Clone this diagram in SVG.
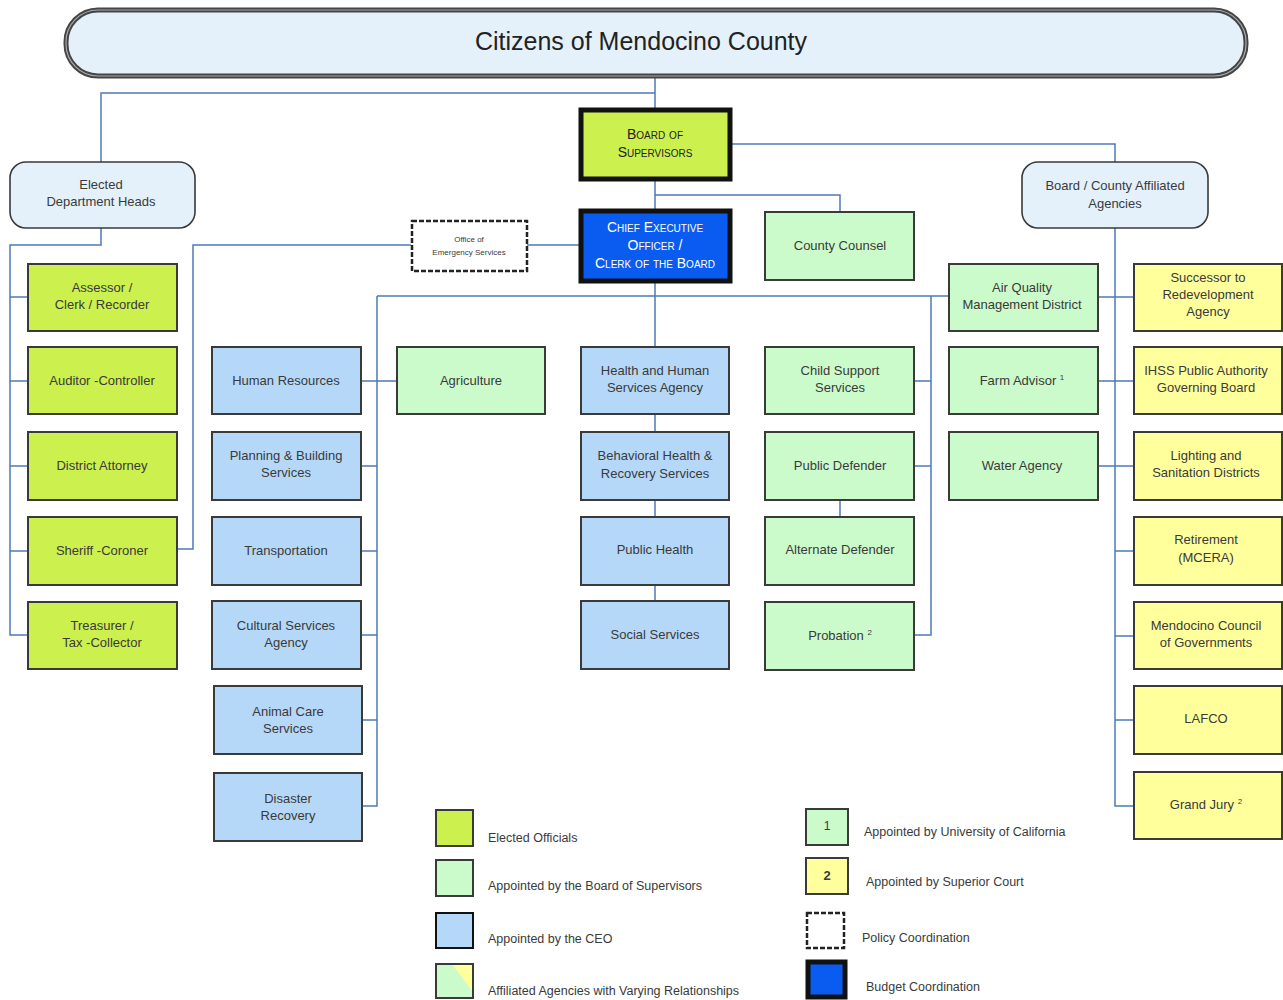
<svg xmlns="http://www.w3.org/2000/svg" width="1283" height="1000" viewBox="0 0 1283 1000">
<style>
text{font-family:"Liberation Sans","DejaVu Sans",sans-serif;font-size:13px;fill:#3a3a3a;text-anchor:middle}
.box{stroke:#3a3a3a;stroke-width:2}
.el{fill:#ccf04e}
.bd{fill:#cbfbcb}
.ceo{fill:#b5d8f8}
.yl{fill:#ffff9c}
.grp{fill:#e4f1fb;stroke:#3a3a3a;stroke-width:1.6}
.conn{fill:none;stroke:#4f7bb8;stroke-width:1.5}
.sc{font-variant:small-caps;font-size:14px}
.lg{text-anchor:start;font-size:12.5px}
</style>
<rect width="1283" height="1000" fill="#fff"/>
<g id="connectors" class="conn">
<path d="M655,76V109M655,93H101V162M731,144H1115V162M655,180V210M655,195H840V212"/>
<path d="M101,228V245H10V635H28M10,297H28M10,381H28M10,466H28M10,551H28"/>
<path d="M527,245H580M411,245H193V549H178"/>
<path d="M655,282V347M377,296H949M377,296V806H362M361,381H397M361,466H377M361,551H377M361,635H377M362,720H377"/>
<path d="M655,414V432M655,500V517M655,585V601M840,500V517"/>
<path d="M931,296V635H914M914,381H931M914,466H931"/>
<path d="M1115,228V806H1134M1098,297H1134M1098,381H1134M1098,466H1134M1115,551H1134M1115,636H1134M1115,720H1134"/>
</g>
<g id="citizens">
<rect x="66" y="10" width="1180" height="66" rx="32" fill="#e4f1fb" stroke="#444" stroke-width="5"/>
<rect x="66" y="10" width="1180" height="66" rx="32" fill="none" stroke="#aaa" stroke-width="1.2"/>
<text x="641" y="50" style="font-size:25px;fill:#222">Citizens of Mendocino County</text>
</g>
<g id="board">
<rect x="581" y="110" width="149" height="69" fill="#ccf04e" stroke="#111" stroke-width="5"/>
<text x="655" y="139" class="sc" style="fill:#222">Board of</text>
<text x="655" y="157" class="sc" style="fill:#222">Supervisors</text>
</g>
<g id="ceo">
<rect x="581" y="211" width="149" height="70" fill="#0a5cf0" stroke="#111" stroke-width="5"/>
<text x="655" y="232" class="sc" style="fill:#fff">Chief Executive</text>
<text x="655" y="250" class="sc" style="fill:#fff">Officer /</text>
<text x="655" y="268" class="sc" style="fill:#fff">Clerk of the Board</text>
</g>
<g id="elected-heads">
<rect x="10" y="162" width="185" height="66" rx="16" class="grp"/>
<text x="101" y="189">Elected</text>
<text x="101" y="206">Department Heads</text>
</g>
<g id="affiliated-agencies">
<rect x="1022" y="162" width="186" height="66" rx="16" class="grp"/>
<text x="1115" y="190">Board  / County Affiliated</text>
<text x="1115" y="208">Agencies</text>
</g>
<g id="oes">
<rect x="412" y="221" width="115" height="50" fill="#fff" stroke="#222" stroke-width="2.5" stroke-dasharray="5,2"/>
<text x="469" y="242" style="font-size:8px">Office of</text>
<text x="469" y="255" style="font-size:8px">Emergency Services</text>
</g>
<g id="county-counsel"><rect x="765" y="212" width="149" height="68" class="box bd"/><text x="840" y="250">County Counsel</text></g>
<g id="assessor"><rect x="28" y="264" width="149" height="67" class="box el"/><text x="102" y="292">Assessor  /</text><text x="102" y="309">Clerk  /  Recorder</text></g>
<g id="auditor"><rect x="28" y="347" width="149" height="67" class="box el"/><text x="102" y="385">Auditor -Controller</text></g>
<g id="district-attorney"><rect x="28" y="432" width="149" height="68" class="box el"/><text x="102" y="470">District Attorney</text></g>
<g id="sheriff"><rect x="28" y="517" width="149" height="68" class="box el"/><text x="102" y="555">Sheriff -Coroner</text></g>
<g id="treasurer"><rect x="28" y="602" width="149" height="67" class="box el"/><text x="102" y="630">Treasurer  /</text><text x="102" y="647">Tax -Collector</text></g>
<g id="human-resources"><rect x="212" y="347" width="149" height="67" class="box ceo"/><text x="286" y="385">Human Resources</text></g>
<g id="planning"><rect x="212" y="432" width="149" height="68" class="box ceo"/><text x="286" y="460">Planning  &amp; Building</text><text x="286" y="477">Services</text></g>
<g id="transportation"><rect x="212" y="517" width="149" height="68" class="box ceo"/><text x="286" y="555">Transportation</text></g>
<g id="cultural"><rect x="212" y="601" width="149" height="68" class="box ceo"/><text x="286" y="630">Cultural Services</text><text x="286" y="647">Agency</text></g>
<g id="animal-care"><rect x="214" y="686" width="148" height="68" class="box ceo"/><text x="288" y="716">Animal Care</text><text x="288" y="733">Services</text></g>
<g id="disaster-recovery"><rect x="214" y="773" width="148" height="68" class="box ceo"/><text x="288" y="803">Disaster</text><text x="288" y="820">Recovery</text></g>
<g id="agriculture"><rect x="397" y="347" width="148" height="67" class="box bd"/><text x="471" y="385">Agriculture</text></g>
<g id="hhsa"><rect x="581" y="347" width="148" height="67" class="box ceo"/><text x="655" y="375">Health and Human</text><text x="655" y="392">Services Agency</text></g>
<g id="behavioral-health"><rect x="581" y="432" width="148" height="68" class="box ceo"/><text x="655" y="460">Behavioral Health   &amp;</text><text x="655" y="478">Recovery Services</text></g>
<g id="public-health"><rect x="581" y="517" width="148" height="68" class="box ceo"/><text x="655" y="554">Public Health</text></g>
<g id="social-services"><rect x="581" y="601" width="148" height="68" class="box ceo"/><text x="655" y="639">Social Services</text></g>
<g id="child-support"><rect x="765" y="347" width="149" height="67" class="box bd"/><text x="840" y="375">Child Support</text><text x="840" y="392">Services</text></g>
<g id="public-defender"><rect x="765" y="432" width="149" height="68" class="box bd"/><text x="840" y="470">Public Defender</text></g>
<g id="alternate-defender"><rect x="765" y="517" width="149" height="68" class="box bd"/><text x="840" y="554">Alternate Defender</text></g>
<g id="probation"><rect x="765" y="602" width="149" height="68" class="box bd"/><text x="840" y="640">Probation <tspan style="font-size:8px" dy="-5">2</tspan></text></g>
<g id="air-quality"><rect x="949" y="264" width="149" height="67" class="box bd"/><text x="1022" y="292">Air Quality</text><text x="1022" y="309">Management District</text></g>
<g id="farm-advisor"><rect x="949" y="347" width="149" height="67" class="box bd"/><text x="1022" y="385">Farm Advisor <tspan style="font-size:8px" dy="-5">1</tspan></text></g>
<g id="water-agency"><rect x="949" y="432" width="149" height="68" class="box bd"/><text x="1022" y="470">Water Agency</text></g>
<g id="successor"><rect x="1134" y="264" width="148" height="67" class="box yl"/><text x="1208" y="282">Successor to</text><text x="1208" y="299">Redevelopment</text><text x="1208" y="316">Agency</text></g>
<g id="ihss"><rect x="1134" y="347" width="148" height="67" class="box yl"/><text x="1206" y="375">IHSS Public Authority</text><text x="1206" y="392">Governing Board</text></g>
<g id="lighting"><rect x="1134" y="432" width="148" height="68" class="box yl"/><text x="1206" y="460">Lighting and</text><text x="1206" y="477">Sanitation Districts</text></g>
<g id="retirement"><rect x="1134" y="517" width="148" height="68" class="box yl"/><text x="1206" y="544">Retirement</text><text x="1206" y="562">(MCERA)</text></g>
<g id="mcog"><rect x="1134" y="602" width="148" height="67" class="box yl"/><text x="1206" y="630">Mendocino Council</text><text x="1206" y="647">of Governments</text></g>
<g id="lafco"><rect x="1134" y="686" width="148" height="68" class="box yl"/><text x="1206" y="723">LAFCO</text></g>
<g id="grand-jury"><rect x="1134" y="772" width="148" height="67" class="box yl"/><text x="1206" y="809">Grand Jury <tspan style="font-size:8px" dy="-5">2</tspan></text></g>
<g id="legend">
<rect x="436" y="810" width="37" height="36" class="box el"/>
<text x="488" y="842" class="lg">Elected Officials</text>
<rect x="436" y="860" width="37" height="36" class="box bd"/>
<text x="488" y="890" class="lg">Appointed by the Board of Supervisors</text>
<rect x="436" y="913" width="37" height="35" class="box ceo" style="stroke:#111"/>
<text x="488" y="943" class="lg">Appointed by the CEO</text>
<rect x="436" y="964" width="37" height="34" fill="#cbfbcb"/>
<polygon points="452,964 473,964 473,992" fill="#ffff9c"/>
<rect x="436" y="964" width="37" height="34" fill="none" stroke="#3a3a3a" stroke-width="2"/>
<text x="488" y="995" class="lg">Affiliated Agencies with Varying Relationships</text>
<rect x="806" y="809" width="42" height="36" class="box bd"/>
<text x="827" y="830" style="font-size:12px">1</text>
<text x="864" y="836" class="lg">Appointed by University of California</text>
<rect x="806" y="858" width="42" height="36" class="box yl"/>
<text x="827" y="880" style="font-size:13px;font-weight:bold">2</text>
<text x="866" y="886" class="lg">Appointed by Superior Court</text>
<rect x="807" y="913" width="37" height="35" fill="#fff" stroke="#222" stroke-width="2.5" stroke-dasharray="5,2"/>
<text x="862" y="942" class="lg">Policy Coordination</text>
<rect x="808" y="962" width="37" height="35" fill="#0a5cf0" stroke="#111" stroke-width="5"/>
<text x="866" y="991" class="lg">Budget Coordination</text>
</g>
</svg>
